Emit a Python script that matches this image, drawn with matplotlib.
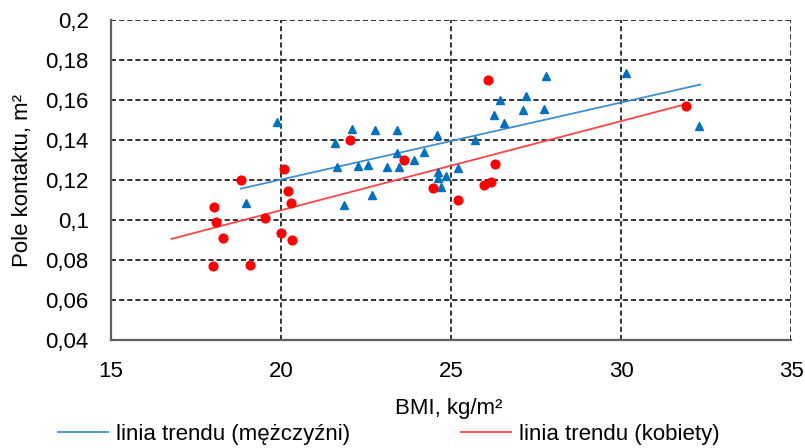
import matplotlib
matplotlib.use('Agg')
import matplotlib.pyplot as plt
import numpy as np
from matplotlib.ticker import FuncFormatter

plt.rcParams['font.family'] = ['Liberation Sans', 'DejaVu Sans']

# mężczyźni (BMI, pole kontaktu)
bmi_m = [19.88, 18.97, 21.60, 22.10, 22.77, 23.42, 24.60, 21.65, 22.26, 22.56,
         23.12, 23.46, 23.42, 23.90, 24.20, 22.67, 21.86, 24.63, 24.63, 24.71,
         24.86, 25.22, 25.72, 26.25, 26.45, 27.79, 30.15, 27.21, 27.12, 27.73,
         26.55, 32.30]
pole_m = [0.1488, 0.1083, 0.1387, 0.1453, 0.1448, 0.1448, 0.1423, 0.1267, 0.1272, 0.1277,
          0.1267, 0.1267, 0.1333, 0.1300, 0.1338, 0.1125, 0.1075, 0.1238, 0.1208, 0.1167,
          0.1220, 0.1258, 0.1398, 0.1527, 0.1600, 0.1722, 0.1735, 0.1618, 0.1550, 0.1557,
          0.1485, 0.1472]

# kobiety
bmi_k = [18.02, 18.10, 18.82, 19.54, 20.10, 20.20, 20.29, 22.03, 23.62, 24.48,
         25.20, 26.10, 25.96, 26.18, 26.29, 17.99, 18.28, 19.09, 19.99, 20.33,
         31.91]
pole_k = [0.1063, 0.0992, 0.1198, 0.1008, 0.1253, 0.1143, 0.1083, 0.1400, 0.1302, 0.1162,
          0.1102, 0.1700, 0.1175, 0.1192, 0.1278, 0.0772, 0.0912, 0.0777, 0.0937, 0.0900,
          0.1572]

# zakres linii trendu (jak w arkuszu)
trend_m_range = [18.82, 32.33]
trend_k_range = [16.78, 31.76]

fig = plt.figure(figsize=(8.05, 4.48), dpi=100)
ax = fig.add_axes([111/805, 1 - 340/448, 680/805, 320/448])

ax.plot(bmi_m, pole_m, linestyle='none', marker='^', ms=6.3, color='#0070C0', zorder=3)
ax.plot(bmi_k, pole_k, linestyle='none', marker='o', ms=6.3, color='#FF0000', zorder=3)

a_m, b_m = np.polyfit(bmi_m, pole_m, 1)
a_k, b_k = np.polyfit(bmi_k, pole_k, 1)
xm = np.array(trend_m_range)
xk = np.array(trend_k_range)
ax.plot(xm, a_m * xm + b_m, color='#3E8ED6', lw=1.3, label='linia trendu (mężczyźni)', zorder=2)
ax.plot(xk, a_k * xk + b_k, color='#FF4545', lw=1.3, label='linia trendu (kobiety)', zorder=2)

ax.set_xlim(15, 35)
ax.set_ylim(0.04, 0.2)
ax.set_xticks(np.arange(15, 36, 5))
ax.set_yticks(np.arange(0.04, 0.201, 0.02))
ax.yaxis.set_major_formatter(FuncFormatter(lambda v, p: f'{v:g}'.replace('.', ',')))
ax.tick_params(length=0, labelsize=16, colors='black')
ax.tick_params(axis='y', pad=16)
ax.tick_params(axis='x', pad=15)

ax.grid(True, color='#222222', lw=1.3, linestyle=(0, (2.8, 1.7)))
ax.set_axisbelow(True)
for s in ['top', 'right']:
    ax.spines[s].set_visible(False)
for s in ['left', 'bottom']:
    ax.spines[s].set_color('#606060')
    ax.spines[s].set_linewidth(1.6)

ax.set_xlabel('BMI, kg/m²', fontsize=16)
ax.xaxis.set_label_coords(0.497, -0.18)
ax.set_ylabel('Pole kontaktu, m²', fontsize=16)
ax.yaxis.set_label_coords(-0.115, 0.5)

fig.legend(loc='center left', bbox_to_anchor=(58/805, 1 - 434/448), ncol=2,
           frameon=False, fontsize=16, borderpad=0, borderaxespad=0,
           handlelength=2.25, handletextpad=0.35, columnspacing=5.0)

plt.savefig('out.png', dpi=100)
